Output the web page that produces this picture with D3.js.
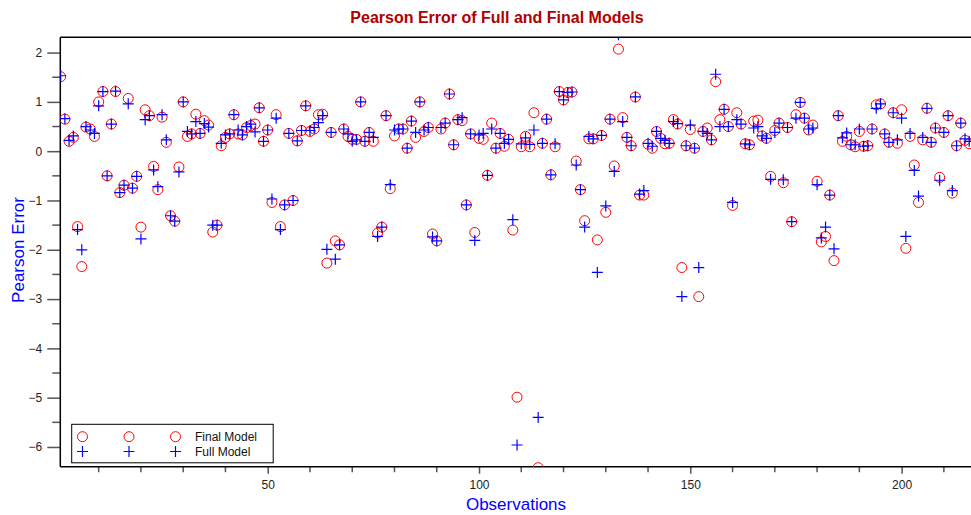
<!DOCTYPE html>
<html>
<head>
<meta charset="utf-8">
<script src="https://cdn.jsdelivr.net/npm/d3@7"></script>
<style>
  body { margin: 0; background: #fff; }
  text { font-family: "Liberation Sans", Arial, sans-serif; }
</style>
</head>
<body>
<div id="chart"></div>
<script>
// observation index is position in array + 1
var finalModel = [
  1.51, 0.65, 0.2, 0.28, -1.53, -2.34, 0.49, 0.45, 0.3, 1.0,
  1.21, -0.5, 0.55, 1.21, -0.84, -0.69, 1.07, -0.75, -0.51, -1.54,
  0.84, 0.72, -0.31, -0.78, 0.69, 0.18, -1.31, -1.42, -0.32, 1.0,
  0.3, 0.35, 0.75, 0.36, 0.62, 0.53, -1.64, -1.5, 0.11, 0.28,
  0.35, 0.74, 0.35, 0.33, 0.48, 0.52, 0.55, 0.88, 0.2, 0.43,
  -1.04, 0.74, -1.53, -1.09, 0.36, -1.0, 0.21, 0.42, 0.92, 0.4,
  0.45, 0.74, 0.75, -2.27, 0.38, -1.82, -1.9, 0.45, 0.3, 0.24,
  0.24, 1.0, 0.2, 0.38, 0.2, -1.66, -1.54, 0.72, -0.76, 0.31,
  0.45, 0.45, 0.06, 0.61, 0.28, 1.0, 0.4, 0.48, -1.68, -1.82,
  0.45, 0.57, 1.16, 0.13, 0.64, 0.62, -1.09, 0.35, -1.65, 0.26,
  0.24, -0.49, 0.57, 0.06, 0.36, 0.1, 0.24, -1.6, -4.99, 0.09,
  0.3, 0.09, 0.78, -6.42, 0.16, 0.65, -0.48, 0.09, 1.21, 1.04,
  1.19, 1.2, -0.2, -0.78, -1.41, 0.25, 0.25, -1.8, 0.32, -1.24,
  0.65, -0.3, 2.07, 0.68, 0.28, 0.11, 1.1, -0.89, -0.89, 0.14,
  0.06, 0.4, 0.26, 0.15, 0.16, 0.64, 0.55, -2.36, 0.11, 0.44,
  0.06, -2.95, 0.4, 0.47, 0.23, 1.41, 0.64, 0.85, 0.5, -1.1,
  0.78, 0.55, 0.15, 0.13, 0.61, 0.63, 0.31, 0.26, -0.51, 0.42,
  0.57, -0.64, 0.48, -1.43, 0.74, 0.99, 0.67, 0.43, 0.53, -0.61,
  -1.84, -1.73, -0.89, -2.22, 0.72, 0.2, 0.3, 0.13, 0.09, 0.4,
  0.1, 0.11, 0.45, 0.94, 0.96, 0.35, 0.18, 0.78, 0.16, 0.84,
  -1.97, 0.3, -0.28, -1.04, 0.23, 0.87, 0.18, 0.47, -0.53, 0.38,
  0.72, -0.85, 0.11, 0.57, 0.22, 0.15
];

var fullModel = [
  1.53, 0.66, 0.22, 0.31, -1.59, -2.0, 0.5, 0.43, 0.36, 0.92,
  1.21, -0.5, 0.55, 1.22, -0.84, -0.69, 0.96, -0.75, -0.51, -1.78,
  0.64, 0.72, -0.38, -0.72, 0.74, 0.23, -1.31, -1.42, -0.42, 1.0,
  0.4, 0.35, 0.6, 0.36, 0.56, 0.49, -1.5, -1.5, 0.16, 0.33,
  0.35, 0.74, 0.43, 0.33, 0.5, 0.55, 0.39, 0.88, 0.2, 0.43,
  -0.97, 0.67, -1.59, -1.09, 0.36, -1.0, 0.21, 0.42, 0.92, 0.42,
  0.48, 0.58, 0.72, -1.99, 0.38, -2.19, -1.9, 0.45, 0.35, 0.2,
  0.23, 1.0, 0.2, 0.38, 0.28, -1.73, -1.54, 0.72, -0.68, 0.43,
  0.45, 0.45, 0.06, 0.61, 0.38, 1.0, 0.43, 0.48, -1.74, -1.82,
  0.48, 0.57, 1.16, 0.13, 0.64, 0.68, -1.09, 0.35, -1.81, 0.33,
  0.36, -0.49, 0.45, 0.06, 0.36, 0.16, 0.24, -1.39, -5.96, 0.15,
  0.27, 0.14, 0.43, -5.4, 0.16, 0.65, -0.48, 0.15, 1.21, 1.04,
  1.19, 1.2, -0.28, -0.78, -1.54, 0.3, 0.25, -2.46, 0.32, -1.11,
  0.65, -0.41, 2.36, 0.6, 0.28, 0.11, 1.1, -0.87, -0.8, 0.16,
  0.1, 0.4, 0.26, 0.22, 0.16, 0.6, 0.56, -2.95, 0.11, 0.53,
  0.06, -2.36, 0.4, 0.36, 0.23, 1.56, 0.5, 0.85, 0.5, -1.04,
  0.64, 0.55, 0.15, 0.13, 0.47, 0.5, 0.31, 0.26, -0.57, 0.38,
  0.57, -0.58, 0.48, -1.43, 0.67, 0.99, 0.67, 0.45, 0.47, -0.68,
  -1.76, -1.54, -0.89, -1.98, 0.72, 0.27, 0.37, 0.13, 0.13, 0.45,
  0.1, 0.11, 0.45, 0.87, 0.96, 0.35, 0.18, 0.78, 0.23, 0.67,
  -1.73, 0.36, -0.39, -0.91, 0.28, 0.87, 0.18, 0.47, -0.59, 0.38,
  0.72, -0.8, 0.11, 0.57, 0.25, 0.2
];

var yTicks = [-6, -5, -4, -3, -2, -1, 0, 1, 2];
var xTicks = [50, 100, 150, 200];
var seriesNames = ['Final Model', 'Full Model'];

var W = 971, H = 515;
var margin = {top: 37.3, right: 0, bottom: 48.3, left: 60.3},
    width = W - margin.left - margin.right,
    height = H - margin.top - margin.bottom;

var x = d3.scaleLinear().domain([0.92, 216.42]).range([0, width]);
var y = d3.scaleLinear().domain([-6.4, 2.31]).range([height, 0]);

// plus-sign path centred on cx,cy
function plusPath(cx, cy, s) {
    return 'M' + (cx - s) + ',' + cy + 'H' + (cx + s) + 'M' + cx + ',' + (cy - s) + 'V' + (cy + s);
}

var svg = d3.select('#chart').append('svg')
    .attr('width', W)
    .attr('height', H);

svg.append('text')
  .attr('x', 497)
  .attr('y', 23)
  .attr('text-anchor', 'middle')
  .attr('font-weight', 'bold')
  .style('font-size', '16px')
  .style('fill', '#b00000')
  .text('Pearson Error of Full and Final Models');

var g = svg.append('g')
    .attr('transform', 'translate(' + margin.left + ',' + margin.top + ')');

g.append('clipPath').attr('id', 'plotclip')
  .append('rect')
    .attr('width', width)
    .attr('height', height);

// top border
g.append('line')
  .attr('x1', 0).attr('x2', width)
  .attr('y1', 0).attr('y2', 0)
  .style('stroke', '#000').style('stroke-width', 1.5);

// y axis, labelled majors + minor ticks at the halves
var yAxis = g.append('g')
  .call(d3.axisLeft(y).tickValues(yTicks).tickSize(13).tickPadding(5).tickFormat(d3.format('d')));
yAxis.select('.domain').remove();
yAxis.selectAll('line').style('stroke', '#555').style('stroke-width', 1.5);
yAxis.selectAll('text').style('font-size', '12px').style('font-family', '"Liberation Sans", Arial, sans-serif').style('fill', '#222');

var yMinor = d3.range(-5.5, 2.1, 1);
g.append('g').selectAll('line').data(yMinor).enter().append('line')
  .attr('x1', -8).attr('x2', 0)
  .attr('y1', function(d) { return y(d); })
  .attr('y2', function(d) { return y(d); })
  .style('stroke', '#555').style('stroke-width', 1.5);

g.append('line')
  .attr('x1', 0).attr('x2', 0)
  .attr('y1', 0).attr('y2', height)
  .style('stroke', '#000').style('stroke-width', 1.5);

// x axis
var xAxis = g.append('g')
  .attr('transform', 'translate(0,' + height + ')')
  .call(d3.axisBottom(x).tickValues(xTicks).tickSize(7).tickPadding(7));
xAxis.select('.domain').remove();
xAxis.selectAll('line').style('stroke', '#555').style('stroke-width', 1.5);
xAxis.selectAll('text').style('font-size', '12px').style('font-family', '"Liberation Sans", Arial, sans-serif').style('fill', '#222');

var xMinor = d3.range(10, 216, 10).filter(function(d) { return d % 50 !== 0; });
g.append('g').selectAll('line').data(xMinor).enter().append('line')
  .attr('x1', function(d) { return x(d); })
  .attr('x2', function(d) { return x(d); })
  .attr('y1', height).attr('y2', height + 5.5)
  .style('stroke', '#555').style('stroke-width', 1.5);

g.append('line')
  .attr('x1', 0).attr('x2', width)
  .attr('y1', height).attr('y2', height)
  .style('stroke', '#000').style('stroke-width', 1.5);

// points
var pts = g.append('g').attr('clip-path', 'url(#plotclip)');

pts.selectAll('circle.final').data(finalModel).enter().append('circle')
  .attr('class', 'final')
  .attr('cx', function(d, i) { return x(i + 1); })
  .attr('cy', function(d) { return y(d); })
  .attr('r', 5)
  .style('fill', 'none')
  .style('stroke', '#ff0000')
  .style('stroke-width', 1);

pts.selectAll('path.full').data(fullModel).enter().append('path')
  .attr('class', 'full')
  .attr('d', function(d, i) { return plusPath(x(i + 1), y(d), 5.5); })
  .style('fill', 'none')
  .style('stroke', '#0000ff')
  .style('stroke-width', 1.2);

// legend
var leg = svg.append('g');
leg.append('rect')
  .attr('x', 71.7).attr('y', 424.3)
  .attr('width', 201.5).attr('height', 38.5)
  .style('fill', '#fff')
  .style('stroke', '#000')
  .style('stroke-width', 1);

var legX = [82.5, 129, 175.5];
leg.selectAll('circle').data(legX).enter().append('circle')
  .attr('cx', function(d) { return d; })
  .attr('cy', 436.7)
  .attr('r', 5)
  .style('fill', 'none')
  .style('stroke', '#ff0000');

leg.selectAll('path').data(legX).enter().append('path')
  .attr('d', function(d) { return plusPath(d, 451.5, 5.5); })
  .style('stroke', '#0000ff')
  .style('stroke-width', 1.2);

leg.selectAll('text').data(seriesNames).enter().append('text')
  .attr('x', 195)
  .attr('y', function(d, i) { return 441 + i * 14.5; })
  .style('font-size', '12px')
  .style('fill', '#111')
  .text(function(d) { return d; });

// axis titles
svg.append('text')
  .attr('x', 516)
  .attr('y', 510)
  .attr('text-anchor', 'middle')
  .style('font-size', '17px')
  .style('fill', '#0000ff')
  .text('Observations');

svg.append('text')
  .attr('transform', 'translate(24,250) rotate(-90)')
  .attr('text-anchor', 'middle')
  .style('font-size', '17px')
  .style('fill', '#0000ff')
  .text('Pearson Error')
</script>
</body>
</html>
